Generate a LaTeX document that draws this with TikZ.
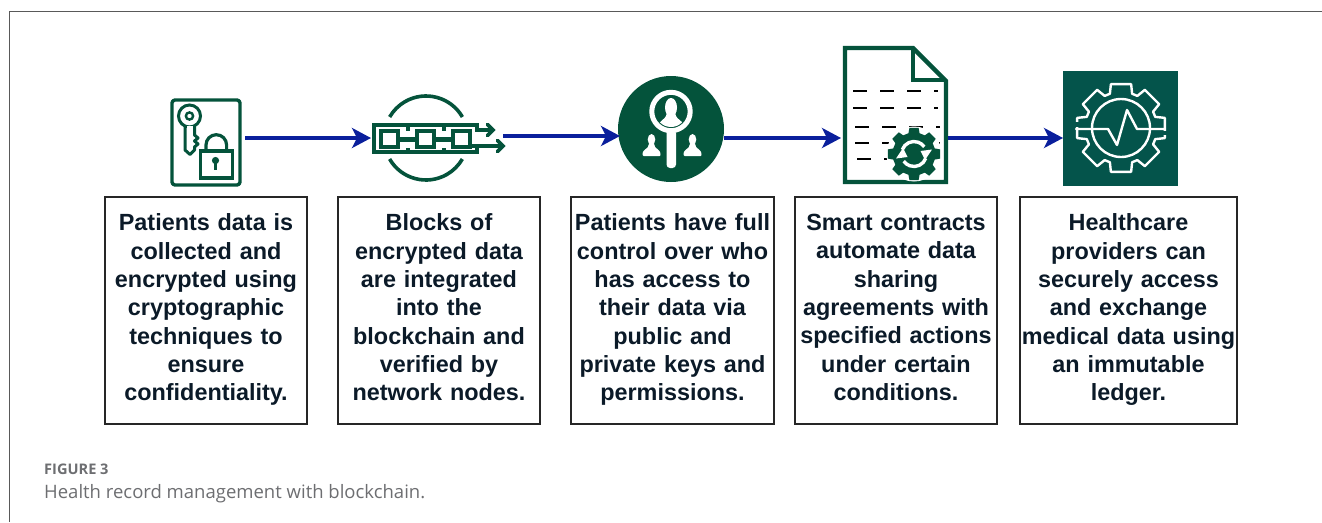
\documentclass[tikz,border=0pt]{standalone}
\usepackage{fontspec}
\setmainfont{Liberation Sans}
\newfontfamily\capfont{Open Sans}
\usetikzlibrary{arrows.meta,calc}
\definecolor{icongreen}{HTML}{04533B}
\definecolor{iconteal}{HTML}{04544B}
\definecolor{flowblue}{HTML}{0A1F9C}
\definecolor{inktext}{HTML}{0B1A28}
\definecolor{capgrey}{HTML}{6D6E71}
\tikzset{
  infobox/.style={draw=black!85,line width=1.9pt,inner xsep=0pt,inner ysep=0pt,outer sep=0pt,minimum height=227pt,align=center,
    font=\fontsize{23.4}{28.35}\selectfont\bfseries,text=inktext,anchor=north west,
    execute at end node={\strut\par\vspace*{-2pt}}},
  flow/.style={draw=flowblue,line width=3.2pt,-{Stealth[length=19pt,width=20pt,inset=5pt]}},
  iconspot/.style={inner sep=0pt,outer sep=0pt,minimum height=20pt},
  greenline/.style={draw=icongreen,line width=3.4pt,line join=round,line cap=round}
}
\newcommand{\gearshape}[4]{% root radius, tip radius, half root angle, half tip angle; tooth on every 45 degrees
  (-#3:#1) \foreach \a in {0,45,...,315}{ -- (\a-#3:#1) -- (\a-#4:#2) -- (\a+#4:#2) -- (\a+#3:#1) arc[start angle=\a+#3,end angle=\a+45-#3,radius=#1]} -- cycle}
\begin{document}
\begin{tikzpicture}[x=1pt,y=-1pt]
\useasboundingbox (0,0) rectangle (1322,522);
\draw[draw=black!65,line width=0.9pt] (1322,11) -- (9.5,11) -- (9.5,522);

% icon spots for the connectors
\node[iconspot,minimum width=74pt] (ic1) at (208,138) {};
\node[iconspot,minimum width=132pt] (ic2) at (437,138) {};
\node[iconspot,minimum width=104pt] (ic3) at (672,138) {};
\node[iconspot,minimum width=107pt] (ic4) at (894.5,138) {};
\node[iconspot,minimum width=115pt] (ic5) at (1120.5,138) {};

% key and padlock
\draw[greenline,rounded corners=3pt] (172,100) rectangle (240,185);
\draw[icongreen,line width=3pt,line join=round,fill=white]
  (185,124) -- (185,150) -- (190,154.5) -- (194.5,150) -- (194.5,147) -- (198,144) -- (194.5,141) -- (198,138) -- (194.5,135) -- (194.5,124) -- cycle;
\draw[icongreen,line width=3pt,fill=white] (189.5,116) circle[radius=11];
\draw[icongreen,line width=2.4pt] (189.5,116) circle[radius=3.6];
\draw[white,line width=3pt] (186.8,127.4) -- (192.8,127.4);
\draw[icongreen,line width=3.2pt] (206,151) -- (206,145) arc[start angle=180,end angle=360,radius=10.3] -- (226.6,151);
\draw[icongreen,line width=3.4pt,fill=white] (200.5,151) rectangle (232.5,178);
\fill[icongreen] (215.5,160.5) circle[radius=3.6];
\draw[icongreen,line width=2.6pt] (215.5,161) -- (215.5,170);

% chain
\draw[icongreen,line width=3.6pt] (462.4,117) arc[start angle=-30,end angle=-150,radius=42];
\draw[icongreen,line width=3.6pt] (389.6,159) arc[start angle=150,end angle=30,radius=42];
\draw[icongreen,line width=4.4pt,line join=miter]
  (490,130) -- (477,130) -- (477,125.2) -- (374.2,125.2) -- (374.2,152) -- (477,152) -- (477,146) -- (500,146);
\foreach \x in {379,415,451}{
  \draw[icongreen,line width=4.4pt] (\x+2.2,131) rectangle (\x+18.8,147);
}
\fill[icongreen] (400,136.5) rectangle (415,141.5);
\fill[icongreen] (436,136.5) rectangle (451,141.5);
\fill[icongreen] (472,144) rectangle (478,148);
\foreach \x in {407.5,443.5}{
  \fill[icongreen] (\x-2,123) rectangle (\x+2,130.5);
  \fill[icongreen] (\x-2,147.5) rectangle (\x+2,154);
}
\draw[icongreen,line width=3.8pt,line cap=round] (487.5,124.5) -- (493,130) -- (487.5,135.5);
\draw[icongreen,line width=3.8pt,line cap=round] (497.5,140.5) -- (503,146) -- (497.5,151.5);

% people and magnifier
\fill[icongreen] (671,129) circle[radius=53];
\draw[white,line width=5pt] (671,111.5) circle[radius=19.2];
\begin{scope}
  \clip (671,111.5) circle[radius=15.5];
  \fill[white] (671,107.5) ellipse[x radius=6,y radius=9.5];
  \fill[white] (655,131) .. controls (657,120) and (665,122) .. (667,113) -- (675,113) .. controls (677,122) and (685,120) .. (687,131) -- cycle;
\end{scope}
\fill[white,rounded corners=3.5pt] (666.5,130) rectangle (676,168);
\foreach \px in {651.5,692.5}{
  \fill[white] (\px,139.5) ellipse[x radius=3.8,y radius=5.5];
  \fill[white,rounded corners=1pt] (\px-9,156) .. controls (\px-9,148) and (\px-3,150) .. (\px-2.5,143) -- (\px+2.5,143) .. controls (\px+3,150) and (\px+9,148) .. (\px+9,156) -- cycle;
}

% smart contract document
\draw[icongreen,line width=4.4pt,line join=miter,fill=white] (845,48) -- (913,48) -- (946,81) -- (946,182) -- (845,182) -- cycle;
\draw[icongreen,line width=4.4pt,line join=miter] (913,48) -- (913,80) -- (946,80);
\foreach \y/\o in {91/0,108/0,127/2,143/2}{
  \foreach \s/\e in {853/867,880/894,907/921,934/938}{
    \draw[black,line width=1.5pt] (\s+\o,\y) -- (\e+\o,\y);
  }
}
\draw[black,line width=1.5pt] (857,159) -- (871,159);
\draw[black,line width=1.5pt] (884,159) -- (892,159);
\begin{scope}[shift={(914,154)}]
  \fill[white] (0,0) circle[radius=27.5];
  \fill[icongreen] \gearshape{21.5}{26.5}{15}{10};
  \draw[white,line width=3.4pt] (200:12.5) arc[start angle=200,end angle=325,radius=12.5];
  \draw[white,line width=3.4pt] (20:12.5) arc[start angle=20,end angle=145,radius=12.5];
  \fill[white] (6.5,-3) -- (18,-4.5) -- (11,6) -- cycle;
  \fill[white] (-6.5,3) -- (-18,4.5) -- (-11,-6) -- cycle;
\end{scope}

% monitoring gear
\fill[iconteal] (1063,71) rectangle (1178,186);
\begin{scope}[shift={(1121,128)}]
  \draw[white,line width=2.4pt,line join=round] \gearshape{36}{45}{18}{13};
  \fill[iconteal] (-47,-6) rectangle (-34,-1);
  \fill[iconteal] (34,2.5) rectangle (47,7);
  \draw[white,line width=2.4pt] (0,0) circle[radius=29];
\end{scope}
\draw[white,line width=2.4pt,line join=round,line cap=round]
  (1076,129) -- (1108,129) -- (1117,145) -- (1127,110) -- (1137,129) -- (1165,129);

% text boxes
\node[infobox,minimum width=202pt,text width=200pt] (b1) at (105,197) {Patients data is\\collected and\\encrypted using\\cryptographic\\techniques to\\ensure\\confidentiality.};
\node[infobox,minimum width=202pt,text width=200pt] (b2) at (338,197) {Blocks of\\encrypted data\\are integrated\\into the\\blockchain and\\verified by\\network nodes.};
\node[infobox,minimum width=203pt,text width=201pt] (b3) at (571,197) {Patients have full\\control over who\\has access to\\their data via\\public and\\private keys and\\permissions.};
\node[infobox,minimum width=202pt,text width=200pt] (b4) at (795,197) {Smart contracts\\automate data\\sharing\\agreements with\\specified actions\\under certain\\conditions.};
\node[infobox,minimum width=217pt,text width=215pt] (b5) at (1020,197) {Healthcare\\providers can\\securely access\\and exchange\\medical data using\\an immutable\\ledger.};

% connectors
\draw[flow] (ic1.east) -- (ic2.west);
\draw[flow] ([yshift=2pt]ic2.east) -- ([yshift=2pt]ic3.west);
\draw[flow] (ic3.east) -- (ic4.west);
\draw[flow] (ic4.east) -- (ic5.west);

% caption
\node[anchor=base west,inner sep=0pt,text=capgrey,font=\capfont\fontsize{14.6}{17}\selectfont\bfseries] (capa) at (44,474) {FIGURE 3};
\node[anchor=base west,inner sep=0pt,text=capgrey,font=\capfont\fontsize{18.5}{22}\selectfont] (capb) at (44,498) {Health record management with blockchain.};
\end{tikzpicture}
\end{document}
